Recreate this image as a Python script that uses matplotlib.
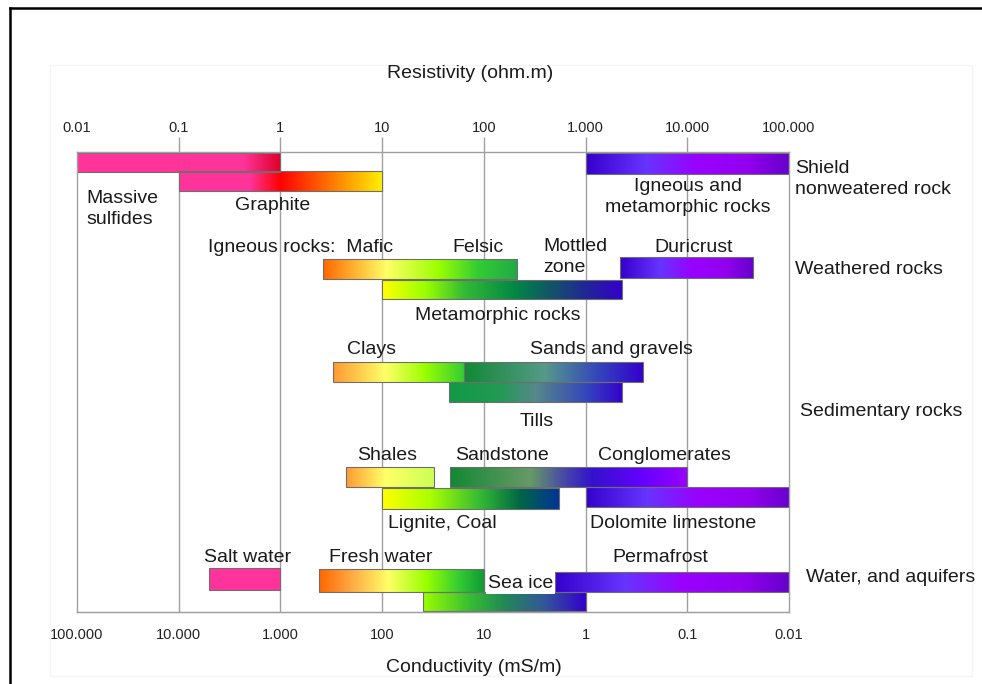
import numpy as np
import matplotlib.pyplot as plt
from matplotlib.colors import LinearSegmentedColormap
from matplotlib.patches import Rectangle
from matplotlib.lines import Line2D
from matplotlib.ticker import NullLocator

plt.rcParams['font.family'] = ['Liberation Sans', 'DejaVu Sans']

W, H = 982, 684

# resistivity ranges (ohm.m) of each rock / material
units = ['massive_sulfides', 'graphite', 'shield', 'igneous', 'metamorphic',
         'duricrust', 'clays', 'sands_gravels', 'tills', 'shales',
         'sandstone_congl', 'lignite', 'dolomite', 'salt_water',
         'fresh_water', 'sea_ice', 'permafrost']
res_low = [0.01, 0.1, 1000, 2.6, 10, 2200, 3.3, 64, 45, 4.4, 46, 10, 1000,
           0.2, 2.4, 25, 500]
res_high = [1, 10, 100000, 210, 2300, 44000, 64, 3700, 2300, 32, 10000, 550,
            105000, 1, 100, 1000, 100000]

res_ticks = [0.01, 0.1, 1, 10, 100, 1000, 10000, 100000]
res_tick_labels = ['0.01', '0.1', '1', '10', '100', '1.000', '10.000', '100.000']
cond_ticks = [100000, 10000, 1000, 100, 10, 1, 0.1, 0.01]
cond_tick_labels = ['100.000', '10.000', '1.000', '100', '10', '1', '0.1', '0.01']

# vertical layout of the bars (px below the top of the plot box)
bar_top = [0.5, 19, 0.7, 106.5, 127.5, 104.7, 209.7, 209.7, 230, 315.3, 315.3,
           336, 335.3, 416, 417, 439.7, 420]
bar_h = [19.5, 19.7, 21.3, 20.5, 19.7, 21, 20, 20, 20.3, 20, 20, 21, 19.4,
         22, 22.7, 19, 20]

blue_violet = [(0, '#3300cc'), (0.3, '#6633ff'), (0.55, '#9900ff'),
               (0.8, '#9200ee'), (1, '#6600cc')]
stops = {
    'massive_sulfides': [(0, '#ff3399'), (0.82, '#ff3399'), (1, '#e0002a')],
    'graphite': [(0, '#ff3399'), (0.35, '#ff3399'), (0.5, '#ff0000'),
                 (0.75, '#ff7700'), (1, '#ffee00')],
    'shield': blue_violet,
    'igneous': [(0, '#ff6600'), (0.33, '#ffff66'), (0.6, '#99ff00'),
                (0.8, '#33cc33'), (1, '#22aa44')],
    'metamorphic': [(0, '#ffff00'), (0.18, '#99ff00'), (0.34, '#33bb33'),
                    (0.55, '#008844'), (0.7, '#115566'), (0.86, '#222299'),
                    (1, '#3300cc')],
    'duricrust': blue_violet,
    'clays': [(0, '#ff9933'), (0.4, '#ffff66'), (0.7, '#99ff00'), (1, '#33cc33')],
    'sands_gravels': [(0, '#118833'), (0.45, '#559988'), (0.75, '#3344bb'),
                      (1, '#3300cc')],
    'tills': [(0, '#119944'), (0.3, '#229955'), (0.5, '#558888'),
              (0.8, '#3344bb'), (1, '#3300cc')],
    'shales': [(0, '#ff9933'), (0.45, '#ffff66'), (1, '#ccff55')],
    'sandstone_congl': [(0, '#118833'), (0.34, '#669966'), (0.49, '#4444aa'),
                        (0.6, '#3311cc'), (0.82, '#6600ff'), (1, '#9900ff')],
    'lignite': [(0, '#ffff00'), (0.27, '#aaff00'), (0.55, '#33bb33'),
                (0.78, '#006644'), (1, '#003399')],
    'dolomite': blue_violet,
    'salt_water': [(0, '#ff3399'), (1, '#ff3399')],
    'fresh_water': [(0, '#ff6600'), (0.2, '#ffaa44'), (0.42, '#ffff66'),
                    (0.65, '#99ff00'), (0.85, '#33cc33'), (1, '#119933')],
    'sea_ice': [(0, '#99ff00'), (0.3, '#33bb33'), (0.5, '#228855'),
                (0.75, '#335599'), (1, '#3300cc')],
    'permafrost': blue_violet,
}

# text labels: (text, x px, y px, alignment)
labels = [
    ('Massive\nsulfides', 86, 209, 'left'),
    ('Graphite', 273, 206, 'center'),
    ('Igneous and\nmetamorphic rocks', 688, 197, 'center'),
    ('Shield\nnonweatered rock', 795, 179, 'left'),
    ('Igneous rocks:  Mafic', 208, 248, 'left'),
    ('Felsic', 478, 248, 'center'),
    ('Mottled\nzone', 543, 257, 'left'),
    ('Duricrust', 694, 248, 'center'),
    ('Weathered rocks', 795, 270, 'left'),
    ('Metamorphic rocks', 498, 316, 'center'),
    ('Clays', 371, 350, 'center'),
    ('Sands and gravels', 611, 350, 'center'),
    ('Tills', 537, 422, 'center'),
    ('Sedimentary rocks', 800, 412, 'left'),
    ('Shales', 387, 456, 'center'),
    ('Sandstone', 502, 456, 'center'),
    ('Conglomerates', 664, 456, 'center'),
    ('Lignite, Coal', 388, 524, 'left'),
    ('Dolomite limestone', 590, 524, 'left'),
    ('Salt water', 248, 558, 'center'),
    ('Fresh water', 381, 558, 'center'),
    ('Permafrost', 660, 558, 'center'),
    ('Water, and aquifers', 806, 578, 'left'),
]


def fx(x):
    return x / W


def fy(y):
    return 1 - y / H


fig = plt.figure(figsize=(W / 100, H / 100), dpi=100)

# outer frame and faint background panel
fig.add_artist(Line2D([fx(10), 1], [fy(8), fy(8)], color='black', lw=1.8))
fig.add_artist(Line2D([fx(10), fx(10)], [0, fy(8)], color='black', lw=1.8))
fig.add_artist(Rectangle((fx(50), fy(676)), 922 / W, 611 / H,
                         transform=fig.transFigure, fill=False,
                         ec='#f5f5f5', lw=1))

ax = fig.add_axes([fx(77), fy(612), 712 / W, 460 / H])
ax.set_xscale('log')
ax.set_xlim(0.01, 1e5)
ax.set_ylim(460, 0)
ax.set_yticks([])
for s in ax.spines.values():
    s.set_color('#a0a0a0')
    s.set_linewidth(1)

ax.xaxis.set_ticks_position('top')
ax.set_xticks(res_ticks, res_tick_labels)
ax.xaxis.set_minor_locator(NullLocator())
ax.tick_params(axis='x', length=0, pad=12.5, labelsize=10.5, labelcolor='#222222')

sec = ax.secondary_xaxis('bottom', functions=(lambda r: 1000 / np.asarray(r),
                                              lambda c: 1000 / np.asarray(c)))
sec.set_xticks(cond_ticks, cond_tick_labels)
sec.xaxis.set_minor_locator(NullLocator())
sec.tick_params(axis='x', length=0, pad=11.5, labelsize=10.5, labelcolor='#222222')
sec.spines['bottom'].set_color('#a0a0a0')

# decade lines, poking a little above the box
ax.vlines(res_ticks[1:-1], -15, 460, colors='#a0a0a0', lw=1, zorder=0.5,
          clip_on=False)

# gradient bars
for name, lo, hi, top, h in zip(units, res_low, res_high, bar_top, bar_h):
    cmap = LinearSegmentedColormap.from_list(name, stops[name])
    xs = np.geomspace(lo, hi, 257)
    ys = [top, top + h]
    c = np.linspace(0, 1, 256)[None, :]
    ax.pcolormesh(xs, ys, c, cmap=cmap, vmin=0, vmax=1, shading='flat',
                  zorder=2, rasterized=True)
    ax.add_patch(Rectangle((lo, top), hi - lo, h, fill=False, ec='#6e6e6e',
                           lw=0.8, zorder=2.5))

for text, x, y, ha in labels:
    fig.text(fx(x), fy(y), text, ha=ha, va='center', fontsize=14,
             color='#1a1a1a', linespacing=1.3)

fig.text(fx(488), fy(583), 'Sea ice', ha='left', va='center', fontsize=14,
         color='#1a1a1a', bbox=dict(fc='white', ec='none', pad=1.5))

fig.text(fx(470), fy(74), 'Resistivity (ohm.m)', ha='center', va='center',
         fontsize=14, color='#1a1a1a')
fig.text(fx(474), fy(668), 'Conductivity (mS/m)', ha='center', va='center',
         fontsize=14, color='#1a1a1a')

fig.savefig('out.png', dpi=100)
